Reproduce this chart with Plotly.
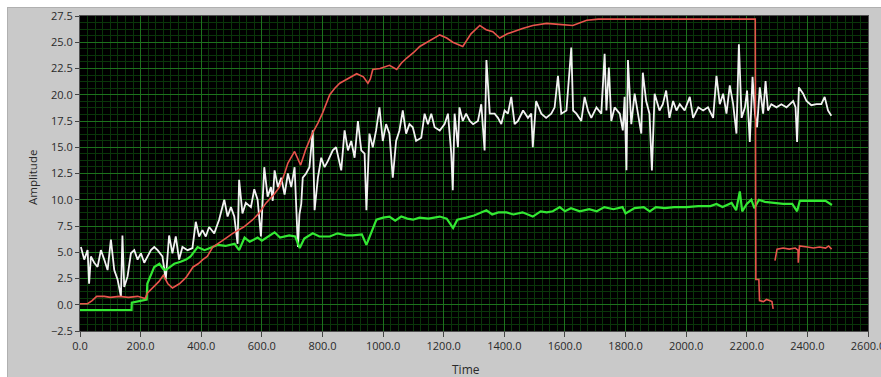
import plotly.graph_objects as go

# ---- data ----
white_t = [3, 8, 14, 25, 30, 36, 47, 58, 69, 80, 91, 102, 113, 124, 135, 140, 146, 157, 168, 179, 190, 201, 212, 223,
           234, 245, 256, 272, 283, 294, 305, 316, 327, 338, 355, 371, 382, 393, 404, 415, 426, 443, 459, 476, 487, 498,
           509, 520, 525, 536, 547, 564, 575, 586, 597, 608, 619, 630, 636, 642, 653, 664, 675, 686, 697, 708, 713, 719,
           724, 730, 735, 746, 757, 768, 774, 785, 796, 807, 818, 834, 845, 862, 873, 884, 895, 906, 917, 928, 939, 945,
           955, 966, 977, 988, 999, 1010, 1021, 1032, 1043, 1054, 1065, 1076, 1087, 1098, 1109, 1126, 1137, 1148, 1159,
           1170, 1187, 1203, 1214, 1225, 1230, 1236, 1247, 1252, 1263, 1274, 1286, 1297, 1313, 1324, 1335, 1341, 1352,
           1368, 1379, 1390, 1401, 1412, 1423, 1434, 1445, 1462, 1478, 1489, 1494, 1505, 1522, 1538, 1555, 1566, 1577,
           1588, 1605, 1621, 1627, 1638, 1654, 1665, 1676, 1687, 1704, 1720, 1731, 1737, 1745, 1753, 1764, 1781, 1791,
           1797, 1803, 1808, 1819, 1830, 1841, 1852, 1857, 1868, 1879, 1887, 1896, 1912, 1923, 1934, 1945, 1957, 1968,
           1979, 1995, 2012, 2023, 2040, 2056, 2072, 2089, 2100, 2111, 2122, 2133, 2144, 2155, 2166, 2174, 2183, 2194,
           2201, 2210, 2219, 2227, 2234, 2243, 2254, 2262, 2270, 2281, 2298, 2314, 2331, 2353, 2361, 2366, 2372, 2386,
           2397, 2413, 2430, 2446, 2457, 2468, 2479]
white_v = [5.5, 4.9, 4.3, 5.2, 2.0, 4.6, 4.0, 3.6, 5.2, 4.3, 3.3, 6.2, 3.3, 2.4, 0.8, 6.6, 1.7, 2.7, 4.9, 5.2, 4.3, 4.9,
           4.0, 4.6, 5.2, 5.5, 5.2, 4.6, 2.4, 6.6, 4.9, 6.5, 4.3, 5.5, 5.2, 5.4, 7.9, 6.5, 7.1, 6.5, 7.4, 6.8, 8.1, 10.0,
           8.4, 9.3, 8.4, 5.8, 11.9, 8.7, 9.7, 9.3, 11.0, 10.0, 6.5, 13.1, 10.3, 11.2, 9.9, 12.8, 11.2, 12.1, 10.5, 12.5,
           11.2, 13.1, 9.3, 5.5, 8.6, 9.6, 12.1, 12.5, 13.1, 16.6, 9.0, 12.1, 14.0, 13.1, 13.7, 14.7, 15.0, 12.8, 16.6,
           14.7, 15.6, 14.0, 17.5, 14.7, 14.4, 9.0, 16.3, 15.0, 16.6, 18.8, 15.6, 17.2, 16.3, 12.1, 15.6, 16.6, 18.5,
           16.3, 17.2, 16.9, 15.6, 15.9, 18.2, 17.2, 18.2, 16.9, 16.6, 17.2, 18.2, 14.4, 10.9, 18.2, 15.0, 18.8, 17.5,
           18.2, 17.5, 17.2, 17.5, 19.1, 14.7, 23.3, 18.2, 18.2, 17.8, 17.2, 18.5, 18.2, 19.8, 17.2, 17.5, 18.5, 17.8,
           18.2, 15.0, 19.4, 18.2, 17.8, 18.2, 18.8, 21.8, 18.2, 18.5, 24.5, 18.5, 18.2, 17.5, 19.8, 18.5, 17.8, 18.8,
           18.2, 23.9, 18.5, 22.6, 17.5, 18.8, 18.2, 16.6, 19.8, 12.8, 23.3, 17.2, 20.1, 18.2, 16.3, 22.1, 19.4, 18.2,
           12.8, 20.1, 18.5, 19.1, 20.4, 17.8, 19.4, 18.5, 19.1, 18.5, 19.8, 17.8, 18.8, 18.5, 18.8, 17.8, 21.8, 19.1,
           20.1, 18.2, 20.9, 19.1, 16.3, 24.8, 17.8, 18.8, 20.4, 15.5, 21.7, 18.2, 16.9, 20.7, 18.2, 21.3, 18.5, 19.1,
           18.8, 19.1, 18.8, 19.4, 18.8, 15.5, 20.7, 20.1, 19.4, 19.0, 19.1, 19.1, 19.8, 18.5, 18.0]

green_t = [0, 170, 171, 190, 210, 220, 222, 235, 245, 262, 275, 283, 300, 311, 332, 350, 365, 388, 411, 430, 454, 480,
           510, 525, 543, 560, 586, 600, 619, 642, 660, 690, 710, 725, 740, 768, 790, 824, 850, 880, 900, 930, 945, 960,
           978, 1000, 1021, 1040, 1060, 1080, 1099, 1120, 1150, 1187, 1210, 1231, 1245, 1275, 1300, 1341, 1360, 1380,
           1407, 1430, 1460, 1494, 1520, 1540, 1560, 1583, 1600, 1620, 1649, 1680, 1705, 1730, 1760, 1790, 1800, 1830,
           1860, 1880, 1900, 1930, 1960, 2000, 2040, 2080, 2100, 2120, 2150, 2165, 2177, 2185, 2200, 2215, 2225, 2240,
           2260, 2290, 2320, 2350, 2366, 2375, 2400, 2430, 2460, 2481]
green_v = [-0.5, -0.5, 0.2, 0.3, 0.4, 0.5, 2.0, 3.0, 3.6, 3.9, 3.4, 3.3, 3.7, 3.9, 4.1, 4.3, 4.6, 5.5, 5.2, 5.4, 5.7, 5.6,
           5.8, 5.2, 6.4, 6.0, 6.4, 6.1, 6.5, 6.9, 6.4, 6.6, 6.5, 5.4, 6.3, 6.8, 6.5, 6.5, 6.8, 6.6, 6.6, 6.7, 5.7, 6.8,
           8.1, 8.3, 8.4, 8.0, 8.4, 8.2, 8.1, 8.3, 8.2, 8.4, 8.2, 7.3, 8.1, 8.3, 8.5, 9.0, 8.6, 8.8, 8.8, 8.6, 8.8, 8.4,
           8.9, 8.8, 8.9, 9.3, 8.9, 9.2, 8.9, 9.1, 8.9, 9.3, 9.1, 9.3, 8.7, 9.2, 9.3, 8.9, 9.3, 9.2, 9.3, 9.3, 9.4, 9.4,
           9.6, 9.3, 9.7, 9.0, 10.8, 8.9, 9.6, 10.0, 9.2, 10.0, 9.8, 9.7, 9.6, 9.6, 8.9, 9.9, 9.9, 9.9, 9.9, 9.5]

red_t = [0, 25, 40, 55, 80, 100, 130, 160, 190, 205, 215, 222, 240, 260, 275, 290, 305, 328, 350, 373, 390, 405, 420,
         438, 470, 504, 540, 570, 590, 614, 640, 658, 675, 686, 708, 718, 728, 745, 768, 785, 801, 824, 840, 857, 880,
         913, 935, 950, 958, 966, 990, 1021, 1045, 1060, 1078, 1100, 1121, 1150, 1187, 1210, 1230, 1263, 1290, 1319,
         1340, 1362, 1385, 1410, 1428, 1460, 1494, 1540, 1580, 1626, 1672, 1710, 2228, 2230, 2240, 2242, 2255, 2265,
         2275, 2283, 2287, 2290, 2293, 2300, 2320, 2340, 2360, 2369, 2370, 2374, 2400, 2420, 2440, 2460, 2470, 2480]
red_v = [0.1, 0.1, 0.4, 0.8, 0.8, 0.7, 0.8, 0.7, 0.8, 0.7, 0.6, 1.1, 1.6, 2.2, 2.8, 2.0, 1.6, 2.0, 2.6, 3.6, 3.9, 4.3,
         4.6, 5.5, 6.1, 6.8, 7.4, 8.1, 8.7, 9.7, 10.5, 11.2, 12.5, 13.5, 14.6, 14.0, 13.3, 14.8, 16.4, 17.3, 18.3, 20.0,
         20.6, 21.1, 21.5, 22.0, 21.7, 21.1, 21.5, 22.4, 22.5, 22.8, 22.4, 23.0, 23.5, 24.0, 24.6, 25.1, 25.7, 25.4,
         25.0, 24.6, 25.8, 26.6, 26.2, 26.0, 25.4, 25.8, 26.0, 26.3, 26.6, 26.8, 26.7, 26.6, 27.1, 27.2, 27.2, 2.4, 2.4,
         0.4, 0.3, 0.5, 0.4, 0.3, -0.4, None, 4.2, 5.3, 5.4, 5.3, 5.4, 5.2, 4.0, 5.6, 5.5, 5.4, 5.5, 5.4, 5.6, 5.3]

x_ticks = [0, 200, 400, 600, 800, 1000, 1200, 1400, 1600, 1800, 2000, 2200, 2400, 2600]
y_ticks = [-2.5, 0, 2.5, 5, 7.5, 10, 12.5, 15, 17.5, 20, 22.5, 25, 27.5]

# ---- figure ----
fig = go.Figure()
fig.add_trace(go.Scatter(x=white_t, y=white_v, mode="lines",
                         line=dict(color="#f2f2f2", width=1.8), showlegend=False))
fig.add_trace(go.Scatter(x=green_t, y=green_v, mode="lines",
                         line=dict(color="#33e833", width=2.2), showlegend=False))
fig.add_trace(go.Scatter(x=red_t, y=red_v, mode="lines", connectgaps=False,
                         line=dict(color="#e8544c", width=1.6), showlegend=False))

L, R, T, B = 80, 13, 16, 46
W, H = 881, 377
pw, ph = W - L - R, H - T - B


def px_x(p):
    return (p - L) / pw


def px_y(p):
    return (H - B - p) / ph


tick_font = dict(family="Open Sans, DejaVu Sans, sans-serif", size=11, color="#2a2a2a")

fig.update_layout(
    width=W, height=H,
    margin=dict(l=L, r=R, t=T, b=B, pad=0),
    paper_bgcolor="#c9c9c9",
    plot_bgcolor="#000000",
    showlegend=False,
    xaxis=dict(range=[0, 2600], tickvals=x_ticks, tickformat=".1f", ticklabeloverflow="allow",
               automargin=False,
               showgrid=True, gridcolor="#1d721d", gridwidth=1,
               minor=dict(dtick=25, showgrid=True, gridcolor="#0a360a", gridwidth=1),
               ticks="outside", ticklen=5, tickcolor="#444", tickfont=tick_font,
               zeroline=False, showline=True, linecolor="#505050", mirror=True),
    yaxis=dict(range=[-2.5, 27.5], tickvals=y_ticks, tickformat=".1f", automargin=False,
               showgrid=True, gridcolor="#1d721d", gridwidth=1,
               minor=dict(dtick=0.625, showgrid=True, gridcolor="#0a360a", gridwidth=1),
               ticks="outside", ticklen=4, tickcolor="#444", tickfont=tick_font,
               zeroline=False, showline=True, linecolor="#505050", mirror=True),
    shapes=[
        dict(type="rect", xref="paper", yref="paper", x0=px_x(0), x1=px_x(W), y0=px_y(0), y1=px_y(7),
             fillcolor="#ffffff", line=dict(width=0), layer="above"),
        dict(type="rect", xref="paper", yref="paper", x0=px_x(0), x1=px_x(7), y0=px_y(H), y1=px_y(0),
             fillcolor="#ffffff", line=dict(width=0), layer="above"),
        dict(type="line", xref="paper", yref="paper", x0=px_x(7), x1=px_x(W), y0=px_y(7.5), y1=px_y(7.5),
             line=dict(color="#b0b0b0", width=1)),
        dict(type="line", xref="paper", yref="paper", x0=px_x(7.5), x1=px_x(7.5), y0=px_y(7), y1=px_y(H),
             line=dict(color="#b0b0b0", width=1)),
    ],
    annotations=[
        dict(text="Amplitude", xref="paper", yref="paper", x=px_x(33), y=px_y(178),
             textangle=-90, showarrow=False, xanchor="center", yanchor="middle",
             font=dict(family="Open Sans, DejaVu Sans, sans-serif", size=11.5, color="#2a2a2a")),
        dict(text="Time", xref="paper", yref="paper", x=px_x(466), y=px_y(369),
             showarrow=False, xanchor="center", yanchor="middle",
             font=dict(family="Open Sans, DejaVu Sans, sans-serif", size=12, color="#2a2a2a")),
    ],
)

fig.write_html("out.html")
